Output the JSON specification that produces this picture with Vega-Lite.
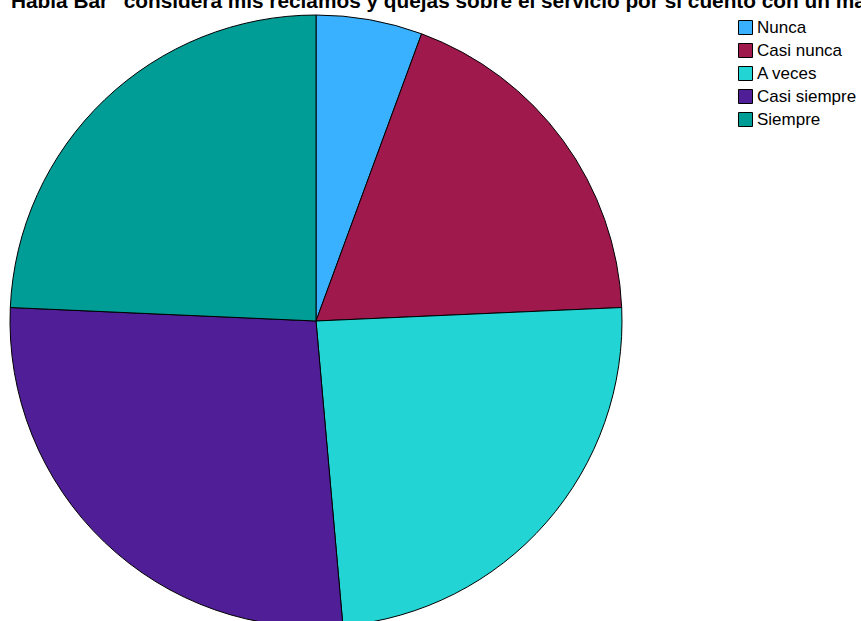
{
  "$schema": "https://vega.github.io/schema/vega-lite/v6.json",
  "width": 632,
  "height": 642,
  "autosize": {"type": "none"},
  "padding": {"left": 0, "top": 0, "right": 229, "bottom": 0},
  "background": "white",
  "title": {
    "text": "Habla Bar\" considera mis reclamos y quejas sobre el servicio por si cuento con un mal servicio",
    "anchor": "start",
    "orient": "top",
    "baseline": "alphabetic",
    "offset": -29,
    "dx": 11,
    "font": "Liberation Sans",
    "fontSize": 20.8,
    "fontWeight": "bold",
    "color": "black"
  },
  "data": {
    "values": [
      {"respuesta": "Nunca", "frecuencia": 6, "orden": 1},
      {"respuesta": "Casi nunca", "frecuencia": 20, "orden": 2},
      {"respuesta": "A veces", "frecuencia": 26, "orden": 3},
      {"respuesta": "Casi siempre", "frecuencia": 29, "orden": 4},
      {"respuesta": "Siempre", "frecuencia": 26, "orden": 5}
    ]
  },
  "mark": {"type": "arc", "outerRadius": 306, "stroke": "black", "strokeWidth": 1},
  "encoding": {
    "theta": {"field": "frecuencia", "type": "quantitative", "stack": true},
    "order": {"field": "orden", "type": "quantitative"},
    "color": {
      "field": "respuesta",
      "type": "nominal",
      "sort": ["Nunca", "Casi nunca", "A veces", "Casi siempre", "Siempre"],
      "scale": {
        "domain": ["Nunca", "Casi nunca", "A veces", "Casi siempre", "Siempre"],
        "range": ["#3ab1ff", "#a0194d", "#22d5d4", "#501f97", "#009c96"]
      },
      "legend": {
        "title": null,
        "orient": "none",
        "legendX": 737,
        "legendY": 19,
        "padding": 0,
        "symbolType": "square",
        "symbolSize": 196,
        "symbolStrokeColor": "black",
        "symbolStrokeWidth": 1,
        "symbolOpacity": 1,
        "labelFont": "Liberation Sans",
        "labelFontSize": 17,
        "labelColor": "black",
        "labelOffset": 3,
        "rowPadding": 4
      }
    }
  },
  "config": {"view": {"stroke": null}}
}
